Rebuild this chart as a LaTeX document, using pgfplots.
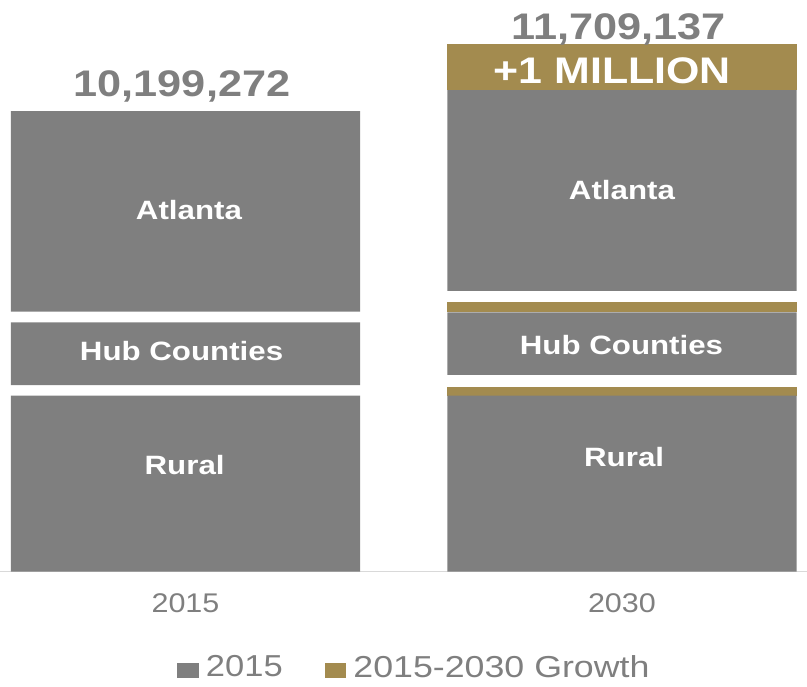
\documentclass[border=0pt]{standalone}
\usepackage{pgfplots}
\pgfplotsset{compat=1.18}
\usepackage{fontspec}
\setmainfont{Liberation Sans}

\definecolor{barg}{RGB}{127,127,127}
\definecolor{gold}{RGB}{163,139,79}
\definecolor{txtg}{RGB}{127,127,127}
\definecolor{axg}{RGB}{217,217,217}
% text in the reference is a little wide, stretch it
\newcommand{\sx}[2][1.17]{\scalebox{#1}[1]{#2}}
\newcommand{\lblfont}{\fontsize{26.5}{26.5}\selectfont\bfseries}
\newcommand{\numfont}{\fontsize{37}{37}\selectfont\bfseries}

\begin{document}
\begin{tikzpicture}
\begin{axis}[
  scale only axis,
  width=807pt, height=571.7pt,
  xmin=-0.425, xmax=1.424,
  ymin=0, ymax=13.27,
  ybar stacked, bar width=0.8,
  axis x line=bottom, axis y line=none,
  axis line style={draw=axg, line width=1.5pt, -},
  xtick={0,1},
  xticklabels={\sx[1.13]{2015},\sx[1.13]{2030}},
  x tick label style={font=\fontsize{27}{27}\selectfont, text=txtg,
    inner sep=0pt, anchor=north, yshift=-21.5pt},
  major tick length=0pt,
  ytick=\empty,
  clip=false,
  legend columns=2,
  legend style={draw=none, fill=none,
    at={(axis description cs:0.5136,-0.1667)}, anchor=center,
    font=\fontsize{30.3}{30.3}\selectfont, text=txtg,
    nodes={inner sep=2pt},
    /tikz/every even column/.append style={column sep=40pt}},
  legend image code/.code={\fill[#1] (0pt,-10.5pt) rectangle (21.6pt,4pt); \path (26.6pt,0pt);},
]
% bottom to top: rural, growth, gap, hub, growth, gap, atlanta, growth (millions)
\addplot[fill=barg, draw=none] coordinates {(0,4.085) (1,4.085)};
\addlegendentry{\sx[1.14]{2015}}
\addplot[fill=gold, draw=none] coordinates {(0,0) (1,0.21)};
\addlegendentry{\sx[1.18]{2015-2030 Growth}}
\addplot[draw=none, fill=none, forget plot] coordinates {(0,0.248) (1,0.272)};
\addplot[fill=barg, draw=none, forget plot] coordinates {(0,1.455) (1,1.455)};
\addplot[fill=gold, draw=none, forget plot] coordinates {(0,0) (1,0.23)};
\addplot[draw=none, fill=none, forget plot] coordinates {(0,0.246) (1,0.269)};
\addplot[fill=barg, draw=none, forget plot] coordinates {(0,4.659) (1,4.659)};
\addplot[fill=gold, draw=none, forget plot] coordinates {(0,0) (1,1.07)};

% label positions, drawn after the axis so they sit on top of the bars
\coordinate (tA) at (axis cs:-0.008,11.026);
\coordinate (tB) at (axis cs:0.992,12.358);
\coordinate (mil) at (axis cs:0.978,11.337);
\coordinate (atlA) at (axis cs:0.008,8.180);
\coordinate (atlB) at (axis cs:1.0,8.628);
\coordinate (hubA) at (axis cs:-0.009,4.891);
\coordinate (hubB) at (axis cs:0.999,5.053);
\coordinate (rurA) at (axis cs:-0.002,2.261);
\coordinate (rurB) at (axis cs:1.005,2.437);
\end{axis}
\node[anchor=base, text=txtg, font=\numfont] at (tA) {\sx{10,199,272}};
\node[anchor=base, text=txtg, font=\numfont] at (tB) {\sx{11,709,137}};
\node[anchor=base, text=white, font=\numfont] at (mil) {\sx[1.16]{+1 MILLION}};
\node[anchor=base, text=white, font=\lblfont] at (atlA) {\sx[1.18]{Atlanta}};
\node[anchor=base, text=white, font=\lblfont] at (atlB) {\sx[1.18]{Atlanta}};
\node[anchor=base, text=white, font=\lblfont] at (hubA) {\sx[1.18]{Hub Counties}};
\node[anchor=base, text=white, font=\lblfont] at (hubB) {\sx[1.18]{Hub Counties}};
\node[anchor=base, text=white, font=\lblfont] at (rurA) {\sx[1.18]{Rural}};
\node[anchor=base, text=white, font=\lblfont] at (rurB) {\sx[1.18]{Rural}};
\pgfresetboundingbox
\path[use as bounding box] ([yshift=-114.3pt]current axis.south west) rectangle (current axis.north east);
\end{tikzpicture}
\end{document}
